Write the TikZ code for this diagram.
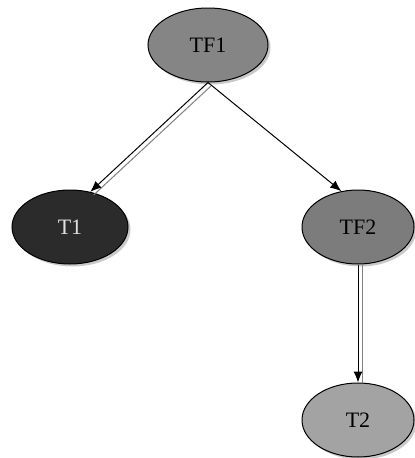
\documentclass[tikz,border=0pt]{standalone}
\usepackage{fontspec}
\setmainfont{Liberation Serif}
\usetikzlibrary{shapes.geometric,shadows,arrows.meta}
\definecolor{cTFone}{HTML}{858585}
\definecolor{cTone}{HTML}{2B2B2B}
\definecolor{cTFtwo}{HTML}{7C7C7C}
\definecolor{cTtwo}{HTML}{A3A3A3}
\definecolor{ctxtlight}{HTML}{E0E0E0}
\tikzset{
  ell/.style={ellipse, draw=black, line width=1pt, inner sep=0pt,
    minimum width=116pt, minimum height=74pt, font=\fontsize{22}{24}\selectfont,
    drop shadow={shadow xshift=2.5pt, shadow yshift=-2.5pt, fill=black!35, opacity=0.6}},
  arr/.style={line width=1pt, -{Latex[length=11pt,width=9pt]}},
  ghost/.style={line width=1pt, draw=black!50}
}
\begin{document}
\begin{tikzpicture}[x=1pt,y=-1pt]
\useasboundingbox[fill=white] (0,0) rectangle (415,458);
\node[ell, fill=cTFone, minimum width=120pt] (TF1) at (208,45) {TF1};
\node[ell, fill=cTone, text=ctxtlight] (T1) at (70,227) {T1};
\node[ell, fill=cTFtwo, minimum width=112pt] (TF2) at (358,227) {TF2};
\node[ell, fill=cTtwo, minimum width=112pt] (T2) at (358,420) {T2};
\draw[ghost, transform canvas={xshift=3.5pt, yshift=-3pt}] (TF1.south) -- (T1.60);
\draw[arr] (TF1.south) -- (T1.60);
\draw[arr] (TF1.south) -- (TF2.115);
\draw[ghost, transform canvas={xshift=4.5pt}] (TF2.south) -- (T2.north);
\draw[arr] (TF2.south) -- (T2.north);
\end{tikzpicture}
\end{document}
